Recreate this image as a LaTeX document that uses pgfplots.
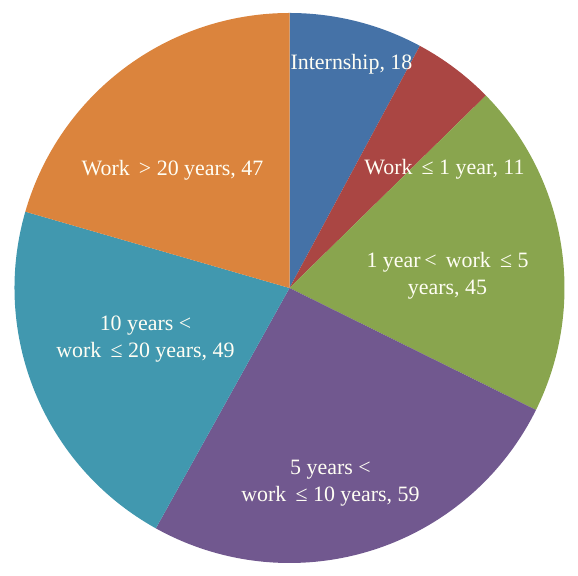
\documentclass[border=0pt]{standalone}
\usepackage{pgfplots}
\pgfplotsset{compat=1.18}
\usepackage{pgfplotstable}
\usepackage{fontspec}
\setmainfont{Liberation Serif}

\definecolor{cInt}{HTML}{4572A7}
\definecolor{cWone}{HTML}{AA4643}
\definecolor{cWfive}{HTML}{89A54E}
\definecolor{cWten}{HTML}{71588F}
\definecolor{cWtwenty}{HTML}{4198AF}
\definecolor{cWmore}{HTML}{DB843D}
\definecolor{lbltext}{HTML}{FFFEF4}
\tikzset{lbl/.style={text=lbltext, align=center, font=\fontsize{22}{27}\selectfont}}

% slices, clockwise from 12 o'clock
\pgfplotstableread{
value color
18 cInt
11 cWone
45 cWfive
59 cWten
49 cWtwenty
47 cWmore
}\piedata

% total and start/end angles of each slice
\pgfplotstablegetrowsof{\piedata}
\pgfmathtruncatemacro\nrows{\pgfplotsretval-1}
\xdef\pietotal{0}
\foreach \i in {0,...,\nrows}{
  \pgfplotstablegetelem{\i}{value}\of\piedata
  \pgfmathsetmacro\tmpsum{\pietotal+\pgfplotsretval}
  \xdef\pietotal{\tmpsum}
}
\xdef\piecum{0}
\foreach \i in {0,...,\nrows}{
  \pgfplotstablegetelem{\i}{value}\of\piedata
  \let\sliceval\pgfplotsretval
  \pgfmathsetmacro\angA{90-360*(\piecum/\pietotal)}
  \pgfmathsetmacro\tmpsum{\piecum+\sliceval}
  \xdef\piecum{\tmpsum}
  \pgfmathsetmacro\angB{90-360*(\piecum/\pietotal)}
  \expandafter\xdef\csname pieA\i\endcsname{\angA}
  \expandafter\xdef\csname pieB\i\endcsname{\angB}
  \pgfplotstablegetelem{\i}{color}\of\piedata
  \expandafter\xdef\csname pieC\i\endcsname{\pgfplotsretval}
}

\begin{document}
\begin{tikzpicture}
\begin{axis}[
    x=1bp, y=1bp,
    xmin=-289.5, xmax=288.5,
    ymin=-288, ymax=288,
    hide axis,
    clip=false,
]
\coordinate (ll) at (rel axis cs:0,0);
\coordinate (ur) at (rel axis cs:1,1);
\pgfplotsinvokeforeach{0,...,5}{
  \fill[fill=\csname pieC#1\endcsname] (axis cs:0,0) -- ++(\csname pieA#1\endcsname:275bp)
    arc[start angle=\csname pieA#1\endcsname, end angle=\csname pieB#1\endcsname, radius=275bp] -- cycle;
}
\node[lbl] at (axis cs:62,224) {Internship, 18};
\node[lbl] at (axis cs:155,119) {Work \,≤ 1 year, 11};
\node[lbl] at (axis cs:158,12) {1 year\,< \,work \,≤ 5\\years, 45};
\node[lbl] at (axis cs:41,-195) {5 years <\\work \,≤ 10 years, 59};
\node[lbl] at (axis cs:-144,-51) {10 years <\\work \,≤ 20 years, 49};
\node[lbl] at (axis cs:-117,118) {Work \,> 20 years, 47};
\end{axis}
\pgfresetboundingbox
\path (ll) rectangle (ur);
\end{tikzpicture}
\end{document}
